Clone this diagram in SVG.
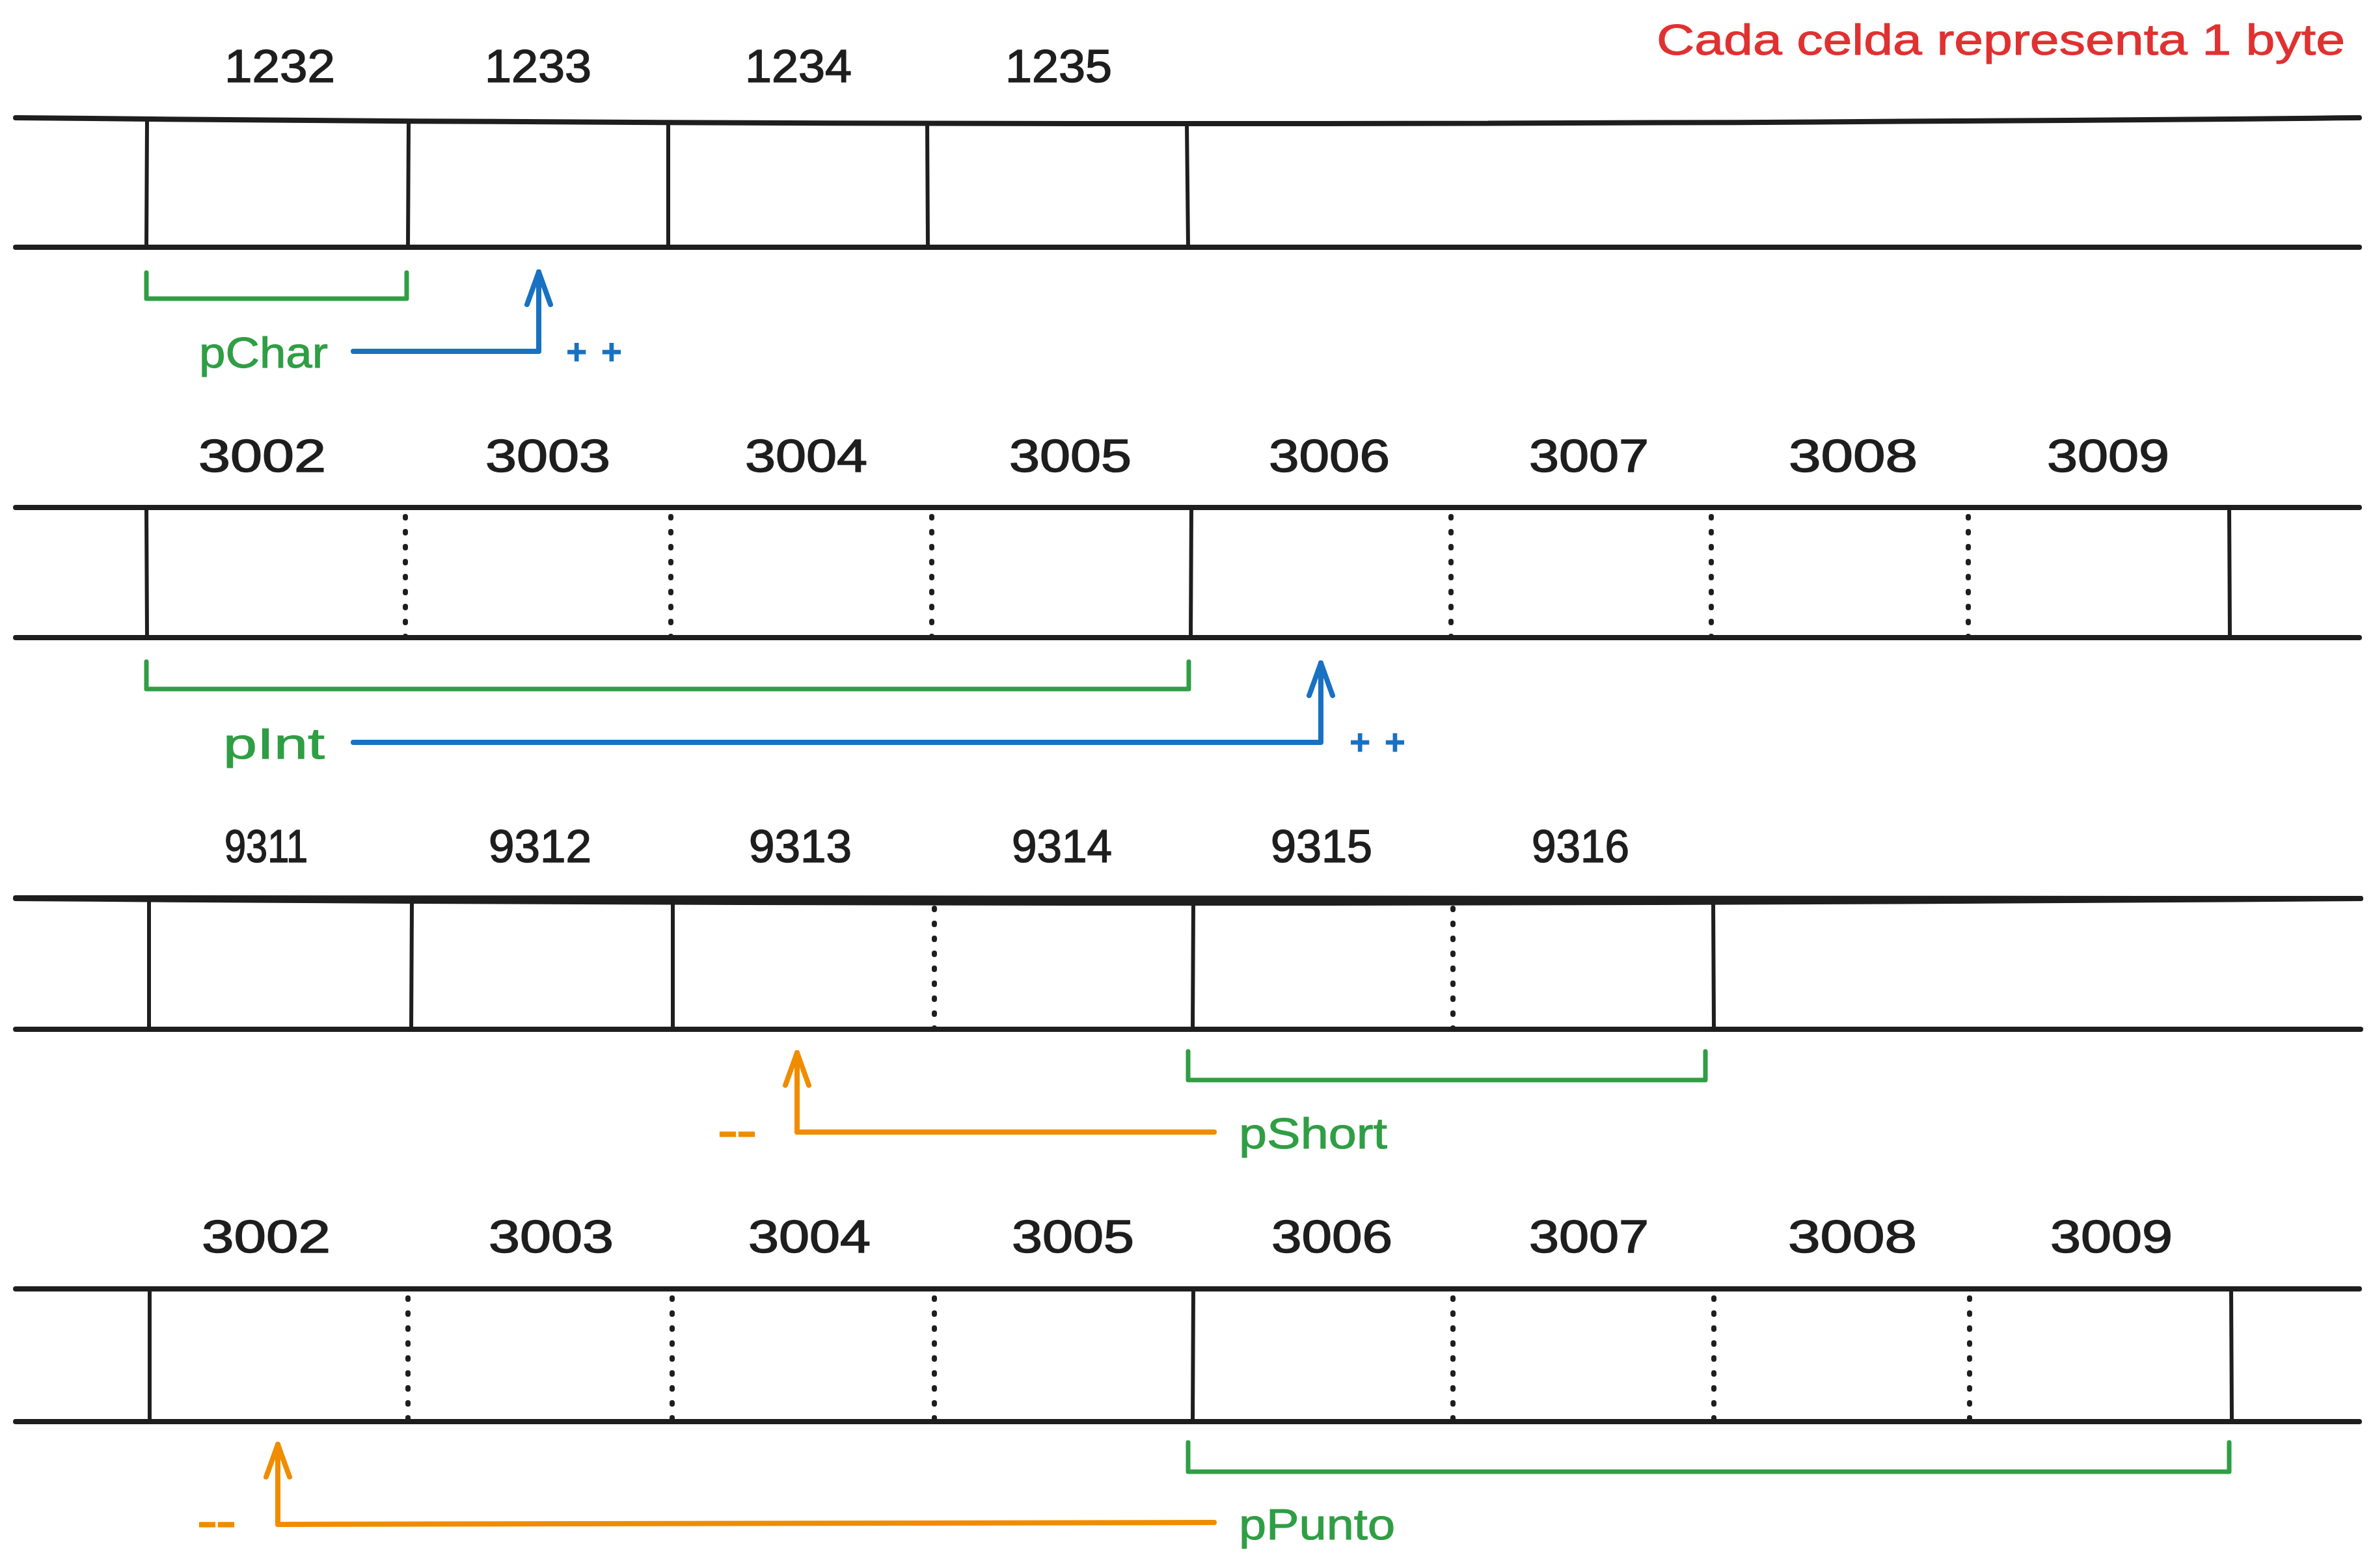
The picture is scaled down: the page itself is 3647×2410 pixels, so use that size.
<svg xmlns="http://www.w3.org/2000/svg" width="3647" height="2410" viewBox="0 0 3647 2410">
<style>
.rail{stroke:#1e1e1e;stroke-width:8;fill:none;stroke-linecap:round}
.cell{stroke:#1e1e1e;stroke-width:6;fill:none;stroke-linecap:round}
.dot{stroke:#1e1e1e;stroke-width:8;fill:none;stroke-linecap:round;stroke-dasharray:2 21}
.brace{stroke:#2f9e44;stroke-width:7;fill:none;stroke-linecap:round;stroke-linejoin:round}
.ablue{stroke:#1971c2;stroke-width:8;fill:none;stroke-linecap:round;stroke-linejoin:round}
.aorange{stroke:#f08c00;stroke-width:8;fill:none;stroke-linecap:round;stroke-linejoin:round}
.num{font-family:"Liberation Sans",Arial,sans-serif;font-size:70px;fill:#1e1e1e;stroke:#1e1e1e;stroke-width:1.5;text-anchor:middle}
.ptr{font-family:"Liberation Sans",Arial,sans-serif;font-size:66px;fill:#2f9e44;stroke:#2f9e44;stroke-width:1}
.opb{font-family:"Liberation Sans",Arial,sans-serif;font-size:52px;fill:#1971c2;stroke:#1971c2;stroke-width:3}
.opo{font-family:"Liberation Sans",Arial,sans-serif;font-size:66px;fill:#f08c00;stroke:#f08c00;stroke-width:3}
.note{font-family:"Liberation Sans",Arial,sans-serif;font-size:66px;fill:#e03131;stroke:#e03131;stroke-width:1}
</style>
<defs>
<marker id="headBlue" markerUnits="userSpaceOnUse" orient="auto" markerWidth="80" markerHeight="80" refX="0" refY="0" viewBox="-60 -40 80 80" overflow="visible">
<path d="M-50,-18 L0,0 L-50,18" fill="none" stroke="#1971c2" stroke-width="8" stroke-linecap="round" stroke-linejoin="round"/>
</marker>
<marker id="headOrange" markerUnits="userSpaceOnUse" orient="auto" markerWidth="80" markerHeight="80" refX="0" refY="0" viewBox="-60 -40 80 80" overflow="visible">
<path d="M-50,-18 L0,0 L-50,18" fill="none" stroke="#f08c00" stroke-width="8" stroke-linecap="round" stroke-linejoin="round"/>
</marker>
</defs>
<rect width="3647" height="2410" fill="#ffffff"/>

<text id="note" class="note" x="2546" y="84" textLength="1058" lengthAdjust="spacingAndGlyphs">Cada celda representa 1 byte</text>

<!-- Row 1: char -->
<g id="row1">
<path class="rail" d="M24,181 Q1826,199 3626,181"/>
<path class="rail" d="M24,380 L3626,380"/>
<path class="cell" d="M226,184 L225,380 M628,186 L627,380 M1027,188 L1027,380 M1425,189 L1426,380 M1824,190 L1826,380"/>
</g>
<g id="row1-labels">
<text class="num" x="430" y="126" textLength="170" lengthAdjust="spacingAndGlyphs">1232</text>
<text class="num" x="827" y="126" textLength="164" lengthAdjust="spacingAndGlyphs">1233</text>
<text class="num" x="1227" y="126" textLength="164" lengthAdjust="spacingAndGlyphs">1234</text>
<text class="num" x="1627" y="126" textLength="164" lengthAdjust="spacingAndGlyphs">1235</text>
</g>
<g id="pChar">
<path class="brace" d="M225,419 L225,459 L625,459 L625,419"/>
<text class="ptr" x="306" y="565" textLength="198" lengthAdjust="spacingAndGlyphs">pChar</text>
</g>
<text id="op-pChar" class="opb" x="871" y="559" textLength="84" lengthAdjust="spacing">++</text>

<!-- Row 2: int -->
<g id="row2">
<path class="rail" d="M24,780 L3626,780"/>
<path class="rail" d="M24,980 L3626,980"/>
<path class="cell" d="M225,780 L226,980 M1831,780 L1830,980 M3426,780 L3427,980"/>
<path class="dot" d="M623,794 L623,980 M1031,794 L1031,980 M1432,794 L1432,980 M2230,794 L2230,980 M2630,794 L2630,980 M3025,794 L3025,980"/>
</g>
<g id="row2-labels">
<text class="num" x="403" y="725" textLength="196" lengthAdjust="spacingAndGlyphs">3002</text>
<text class="num" x="842" y="725" textLength="192" lengthAdjust="spacingAndGlyphs">3003</text>
<text class="num" x="1239" y="725" textLength="188" lengthAdjust="spacingAndGlyphs">3004</text>
<text class="num" x="1645" y="725" textLength="188" lengthAdjust="spacingAndGlyphs">3005</text>
<text class="num" x="2043" y="725" textLength="186" lengthAdjust="spacingAndGlyphs">3006</text>
<text class="num" x="2442" y="725" textLength="184" lengthAdjust="spacingAndGlyphs">3007</text>
<text class="num" x="2848" y="725" textLength="198" lengthAdjust="spacingAndGlyphs">3008</text>
<text class="num" x="3240" y="725" textLength="188" lengthAdjust="spacingAndGlyphs">3009</text>
</g>
<g id="pInt">
<path class="brace" d="M225,1017 L225,1059 L1827,1059 L1827,1017"/>
<text class="ptr" x="343" y="1166" textLength="156" lengthAdjust="spacingAndGlyphs">pInt</text>
</g>
<text id="op-pInt" class="opb" x="2075" y="1159" textLength="84" lengthAdjust="spacing">++</text>

<!-- Row 3: short -->
<g id="row3">
<path class="rail" d="M24,1380 L3628,1381"/>
<path class="rail" d="M24,1381 Q1826,1395 3628,1381"/>
<path class="rail" d="M24,1582 L3628,1582"/>
<path class="cell" d="M229,1381 L229,1582 M633,1384 L632,1582 M1034,1386 L1034,1582 M1834,1388 L1833,1582 M2633,1388 L2634,1582"/>
<path class="dot" d="M1436,1396 L1436,1582 M2233,1396 L2233,1582"/>
</g>
<g id="row3-labels">
<text class="num" x="409" y="1325" textLength="128" lengthAdjust="spacingAndGlyphs">9311</text>
<text class="num" x="830" y="1325" textLength="158" lengthAdjust="spacingAndGlyphs">9312</text>
<text class="num" x="1230" y="1325" textLength="158" lengthAdjust="spacingAndGlyphs">9313</text>
<text class="num" x="1632" y="1325" textLength="154" lengthAdjust="spacingAndGlyphs">9314</text>
<text class="num" x="2031" y="1325" textLength="156" lengthAdjust="spacingAndGlyphs">9315</text>
<text class="num" x="2429" y="1325" textLength="150" lengthAdjust="spacingAndGlyphs">9316</text>
</g>
<g id="pShort">
<path class="brace" d="M1826,1616 L1826,1660 L2621,1660 L2621,1616"/>
<text class="ptr" x="1904" y="1765" textLength="228" lengthAdjust="spacingAndGlyphs">pShort</text>
</g>
<text id="op-pShort" class="opo" x="1104" y="1761" textLength="58" lengthAdjust="spacingAndGlyphs">--</text>

<!-- Row 4: punto -->
<g id="row4">
<path class="rail" d="M24,1981 L3626,1981"/>
<path class="rail" d="M24,2185 L3626,2185"/>
<path class="cell" d="M230,1981 L230,2185 M1834,1981 L1833,2185 M3429,1981 L3430,2185"/>
<path class="dot" d="M627,1995 L627,2185 M1033,1995 L1033,2185 M1436,1995 L1436,2185 M2233,1995 L2233,2185 M2634,1995 L2634,2185 M3027,1995 L3027,2185"/>
</g>
<g id="row4-labels">
<text class="num" x="409" y="1925" textLength="198" lengthAdjust="spacingAndGlyphs">3002</text>
<text class="num" x="847" y="1925" textLength="192" lengthAdjust="spacingAndGlyphs">3003</text>
<text class="num" x="1244" y="1925" textLength="188" lengthAdjust="spacingAndGlyphs">3004</text>
<text class="num" x="1649" y="1925" textLength="188" lengthAdjust="spacingAndGlyphs">3005</text>
<text class="num" x="2047" y="1925" textLength="186" lengthAdjust="spacingAndGlyphs">3006</text>
<text class="num" x="2442" y="1925" textLength="184" lengthAdjust="spacingAndGlyphs">3007</text>
<text class="num" x="2847" y="1925" textLength="198" lengthAdjust="spacingAndGlyphs">3008</text>
<text class="num" x="3245" y="1925" textLength="188" lengthAdjust="spacingAndGlyphs">3009</text>
</g>
<g id="pPunto">
<path class="brace" d="M1826,2217 L1826,2262 L3426,2262 L3426,2217"/>
<text class="ptr" x="1904" y="2366" textLength="240" lengthAdjust="spacingAndGlyphs">pPunto</text>
</g>
<text id="op-pPunto" class="opo" x="304" y="2361" textLength="58" lengthAdjust="spacingAndGlyphs">--</text>

<g id="connectors">
<path class="ablue" d="M543,540 L828,540 L828,418" marker-end="url(#headBlue)"/>
<path class="ablue" d="M543,1141 L2030,1141 L2030,1019" marker-end="url(#headBlue)"/>
<path class="aorange" d="M1866,1740 L1225,1740 L1225,1618" marker-end="url(#headOrange)"/>
<path class="aorange" d="M1866,2340 L427,2343 L427,2220" marker-end="url(#headOrange)"/>
</g>
</svg>
